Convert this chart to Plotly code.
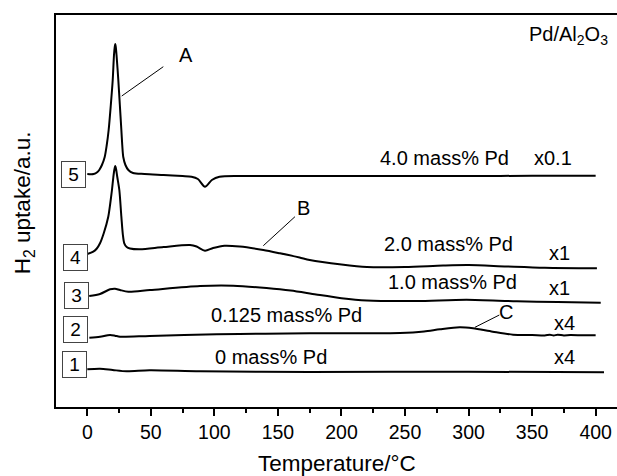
import plotly.graph_objects as go

# ---- data (temperature in °C, H2 uptake in a.u., stacked/offset as in the figure) ----
t5 = [0, 5, 8, 9.4, 11.5, 13.7, 15.3, 16.8, 18.5, 20, 21, 21.6, 22, 22.4, 23, 24.4, 25.6, 26.8, 27.5, 28.3, 30, 32.3, 36, 45, 60, 75, 82, 87, 92.6, 98, 104, 120, 150, 200, 250, 300, 350, 400]
v5 = [233, 233, 235, 237, 242, 250, 262, 277, 302, 327, 352, 360, 363, 360, 352, 327, 302, 277, 262, 250, 242, 237, 234, 233, 232, 231, 230.3, 228, 220.3, 227, 230.3, 231, 231, 231, 231, 231, 231.2, 231.3]

t4 = [0, 4.7, 7.5, 10, 13, 16.5, 18, 19.4, 20.5, 21.3, 22, 22.7, 23.6, 25.2, 26.8, 28, 29.1, 31, 33.6, 41.5, 60, 80.8, 86, 92.6, 99, 108, 120, 138.5, 151.6, 167, 175, 200, 220, 250, 280, 300, 330, 360, 401]
v4 = [153, 155.3, 158.5, 163.7, 174, 190.3, 203, 217, 230, 237.5, 241, 237.5, 230, 217, 190.3, 172, 163.7, 160, 158.5, 157.7, 160, 162, 160.5, 156.3, 159, 161.3, 160.5, 157, 153.7, 149.5, 147, 142.5, 140, 140, 141.5, 142, 140.5, 139.2, 138.7]

t3 = [1.5, 10, 17.9, 21.8, 25.7, 32.3, 49.3, 88.7, 114.8, 141, 160, 180, 200, 220, 259, 298.5, 338, 370, 404]
v3 = [111, 113, 117.7, 118.3, 117, 115.3, 117, 121, 121.3, 119, 116.5, 112.5, 108.8, 106.5, 106, 107.3, 105.7, 105, 104.3]

t2 = [1.6, 10, 17.9, 21.8, 25.7, 49, 101.8, 140, 175, 210, 246, 265, 277.5, 293, 303.5, 319, 335, 350, 360, 364, 367, 370, 375, 380, 390, 400]
v2 = [69.3, 70.3, 72, 71.3, 70.3, 71, 72.7, 73.3, 73.7, 73.8, 74, 75.5, 77.7, 79.7, 78.7, 75.3, 72.3, 72, 71.6, 72.2, 71.5, 72.3, 71.6, 71.9, 71.7, 71.7]

t1 = [0, 10, 20, 31, 49, 88.7, 175, 300, 406.6]
v1 = [37.7, 38.3, 37, 35.7, 36.7, 35.7, 35, 35.3, 34.7]

series_t = [t1, t2, t3, t4, t5]
series_v = [v1, v2, v3, v4, v5]

# sample number boxes
box_labels = ["1", "2", "3", "4", "5"]
box_x = [-9.8, -9.5, -8.3, -9.0, -10.7]
box_y = [42.3, 77.3, 111.7, 150, 232.7]

# curve labels
label_text = ["4.0 mass% Pd", "x0.1", "2.0 mass% Pd", "x1", "1.0 mass% Pd", "x1",
              "0.125 mass% Pd", "x4", "0 mass% Pd", "x4", "A", "B", "C",
              "Pd/Al<sub>2</sub>O<sub>3</sub>"]
label_x = [280.8, 366.4, 284.6, 371.5, 287.0, 371.5, 156.9, 375.3, 144.4, 375.3, 77.7, 170.3, 329.4, 378.6]
label_y = [248.7, 249.0, 163.0, 153.7, 125.3, 119.3, 92.0, 83.7, 50.3, 50.3, 352.0, 199.5, 95.3, 372.0]

# leader lines for A, B, C (x0, y0, x1, y1)
leaders = [(59.8, 340.3, 27.1, 311.0), (163.4, 190.3, 138.5, 161.3), (324.2, 92.0, 305.0, 79.7)]

x_ticks = [0, 50, 100, 150, 200, 250, 300, 350, 400]

FONT = "Liberation Sans, Arial, sans-serif"

fig = go.Figure()
for t, v in zip(series_t, series_v):
    fig.add_trace(go.Scatter(x=t, y=v, mode="lines",
                             line=dict(color="black", width=2, shape="spline", smoothing=0.8),
                             showlegend=False, hoverinfo="skip"))

for lab, bx, by in zip(box_labels, box_x, box_y):
    fig.add_annotation(x=bx, y=by, xref="x", yref="y", text=lab, showarrow=False,
                       font=dict(family=FONT, size=19, color="black"),
                       width=23, height=25, borderpad=0, borderwidth=1, bordercolor="#444",
                       bgcolor="white", xanchor="center", yanchor="middle")

for txt, lx, ly in zip(label_text, label_x, label_y):
    fig.add_annotation(x=lx, y=ly, xref="x", yref="y", text=txt, showarrow=False,
                       font=dict(family=FONT, size=20, color="black"),
                       xanchor="center", yanchor="middle")

for x0, y0, x1, y1 in leaders:
    fig.add_shape(type="line", xref="x", yref="y", x0=x0, y0=y0, x1=x1, y1=y1,
                  line=dict(color="black", width=1))

# axis titles
fig.add_annotation(x=0.5, y=-0.143, xref="paper", yref="paper", text="Temperature/°C",
                   showarrow=False, font=dict(family=FONT, size=22.5, color="black"),
                   xanchor="center", yanchor="middle")
fig.add_annotation(x=-0.057, y=0.52, xref="paper", yref="paper", text="H<sub>2</sub> uptake/a.u.",
                   showarrow=False, textangle=-90, font=dict(family=FONT, size=22.5, color="black"),
                   xanchor="center", yanchor="middle")

fig.update_xaxes(range=[-24.63, 416.8], showline=True, linecolor="black", linewidth=2,
                 mirror=True, ticks="outside", ticklen=7, tickwidth=1.5, tickcolor="black",
                 tickvals=x_ticks, ticktext=[str(v) for v in x_ticks],
                 tickfont=dict(family=FONT, size=19.5, color="black"),
                 minor=dict(dtick=25, tick0=0, ticks="outside", ticklen=4, tickwidth=1.5, tickcolor="black"),
                 showgrid=False, zeroline=False)
fig.update_yaxes(range=[0, 392], showline=True, linecolor="black", linewidth=2, mirror=False,
                 showticklabels=False, ticks="", showgrid=False, zeroline=False)

fig.update_layout(width=617, height=476, margin=dict(l=56, r=0, t=15, b=69),
                  plot_bgcolor="white", paper_bgcolor="white", showlegend=False)

fig.write_html("out.html", config={"displayModeBar": False},
               post_script="document.body.style.margin='0';document.body.style.overflow='hidden';")
